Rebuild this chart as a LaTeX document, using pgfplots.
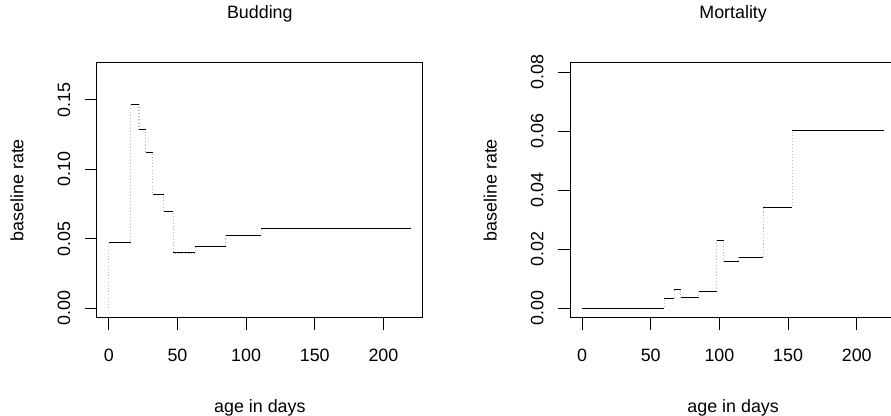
\documentclass[border=0pt]{standalone}
\usepackage{pgfplots}
\pgfplotsset{compat=1.18}
\usepackage{fontspec}
\setmainfont{Liberation Sans}
\begin{document}
\fontsize{13.4}{16}\selectfont
\begin{tikzpicture}
\pgfplotsset{
  rstyle/.style={
    scale only axis, width=244.7pt, height=191.25pt,
    xmin=-8.8, xmax=228.8,
    tick pos=left, tick align=outside,
    major tick length=9pt,
    major tick style={line width=0.75pt, black},
    axis line style={line width=0.75pt},
    xtick={0,50,100,150,200},
    scaled y ticks=false,
    /pgf/number format/assume math mode=true,
    xticklabel style={anchor=base, yshift=-23.5pt},
    yticklabel style={xshift=-10.9pt, rotate=90, anchor=base, /pgf/number format/fixed, /pgf/number format/fixed zerofill, /pgf/number format/precision=2},
    xlabel={age in days}, ylabel={baseline rate},
    xlabel style={at={(axis description cs:0.5,-0.37)}, anchor=base},
    ylabel style={at={(axis description cs:-0.225,0.5)}, anchor=base},
    title style={at={(axis description cs:0.5,1.143)}, anchor=base, yshift=0pt},
    anchor=south west,
  },
  stepv/.style={gray!55, line width=0.8pt, dash pattern=on 0.8pt off 1.6pt, const plot mark left},
  steph/.style={black, line width=0.75pt, jump mark left},
}
\begin{axis}[rstyle, at={(72.525pt,73.725pt)}, ymin=-0.0068, ymax=0.1768, ytick={0,0.05,0.10,0.15}, title={Budding}]
\addplot[stepv] coordinates {(0,0) (0,0.0474) (16,0.147) (22,0.1285) (27,0.1122) (32,0.0817) (40,0.0697) (47,0.0398) (63,0.0444) (85,0.0527) (111,0.0573) (220,0.0573)};
\addplot[steph] coordinates {(0,0.0474) (16,0.147) (22,0.1285) (27,0.1122) (32,0.0817) (40,0.0697) (47,0.0398) (63,0.0444) (85,0.0527) (111,0.0573) (220,0.0573)};
\end{axis}
\begin{axis}[rstyle, at={(427.5pt,73.725pt)}, ymin=-0.0032, ymax=0.0832, ytick={0,0.02,0.04,0.06,0.08}, title={Mortality}]
\addplot[stepv] coordinates {(0,0) (60,0.0032) (67,0.0062) (72,0.0036) (85,0.0057) (98,0.0231) (103,0.0157) (114,0.0172) (132,0.0341) (153,0.0602) (220,0.0602)};
\addplot[steph] coordinates {(0,0) (60,0.0032) (67,0.0062) (72,0.0036) (85,0.0057) (98,0.0231) (103,0.0157) (114,0.0172) (132,0.0341) (153,0.0602) (220,0.0602)};
\end{axis}
\pgfresetboundingbox
\path[use as bounding box] (0pt,0pt) rectangle (668.25pt,312pt);
\end{tikzpicture}
\end{document}
